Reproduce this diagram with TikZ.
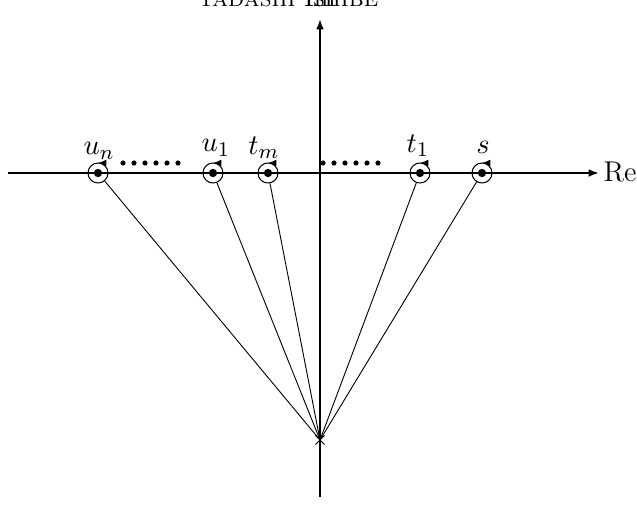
\documentclass[tikz,border=0pt]{standalone}
\usetikzlibrary{arrows.meta,decorations.markings,shapes.misc}
\begin{document}
\begin{tikzpicture}[x=0.385pt,y=0.385pt,
  axis/.style={line width=0.75pt,-{Latex[length=4pt,width=3pt]}},
  ray/.style={line width=0.35pt},
  loop/.style={circle,draw,line width=0.4pt,minimum size=20*0.385pt,inner sep=0pt,
    postaction={decorate},
    decoration={markings,mark=at position 0.25 with {\arrow{Latex[length=3.2pt,width=2.6pt]}}}},
  dotc/.style={circle,fill,inner sep=0pt,minimum size=3.2pt},
  sdot/.style={circle,fill,inner sep=0pt,minimum size=2pt},
  lab/.style={font=\fontsize{11}{13}\selectfont}]
\useasboundingbox (0,0) rectangle (637,508);
% header
\node[anchor=base,inner sep=0pt] (hdr) at (288.5,501.5) {\textsc{tadashi ishibe}};
% axes
\coordinate (xl) at (8,335);
\coordinate (xr) at (599,335);
\coordinate (yb) at (320,11);
\coordinate (yt) at (320,489);
\draw[axis] (xl) -- (xr);
\draw[axis] (yb) -- (yt);
\node[anchor=west,inner sep=0pt,lab] (re) at (603,336) {Re};
\node[anchor=base,inner sep=0pt] (im) at (320,501.5) {Im};
% points
\node[loop] (un) at (98,335) {};
\node[loop] (u1) at (213,335) {};
\node[loop] (tm) at (268,335) {};
\node[loop] (t1) at (420,335) {};
\node[loop] (s)  at (482,335) {};
\foreach \p in {un,u1,tm,t1,s} \node[dotc] at (\p.center) {};
% labels
\node[lab] (lun) at (99,357) {$u_n$};
\node[lab] (lu1) at (216,360) {$u_1$};
\node[lab] (ltm) at (264,360) {$t_m$};
\node[lab] (lt1) at (418,362) {$t_1$};
\node[lab] (ls)  at (483,361) {$s$};
% dots
\foreach \i in {0,...,5} {
  \node[sdot] at (123+11*\i,345) {};
  \node[sdot] at (323+11*\i,345) {};
}
% base point
\coordinate (X) at (320,68);
\foreach \p in {un,u1,tm,t1,s} \draw[ray] (\p) -- (X);
\node[cross out,draw,line width=0.4pt,minimum size=8*0.385pt,inner sep=0pt] (xm) at (X) {};
\end{tikzpicture}
\end{document}
